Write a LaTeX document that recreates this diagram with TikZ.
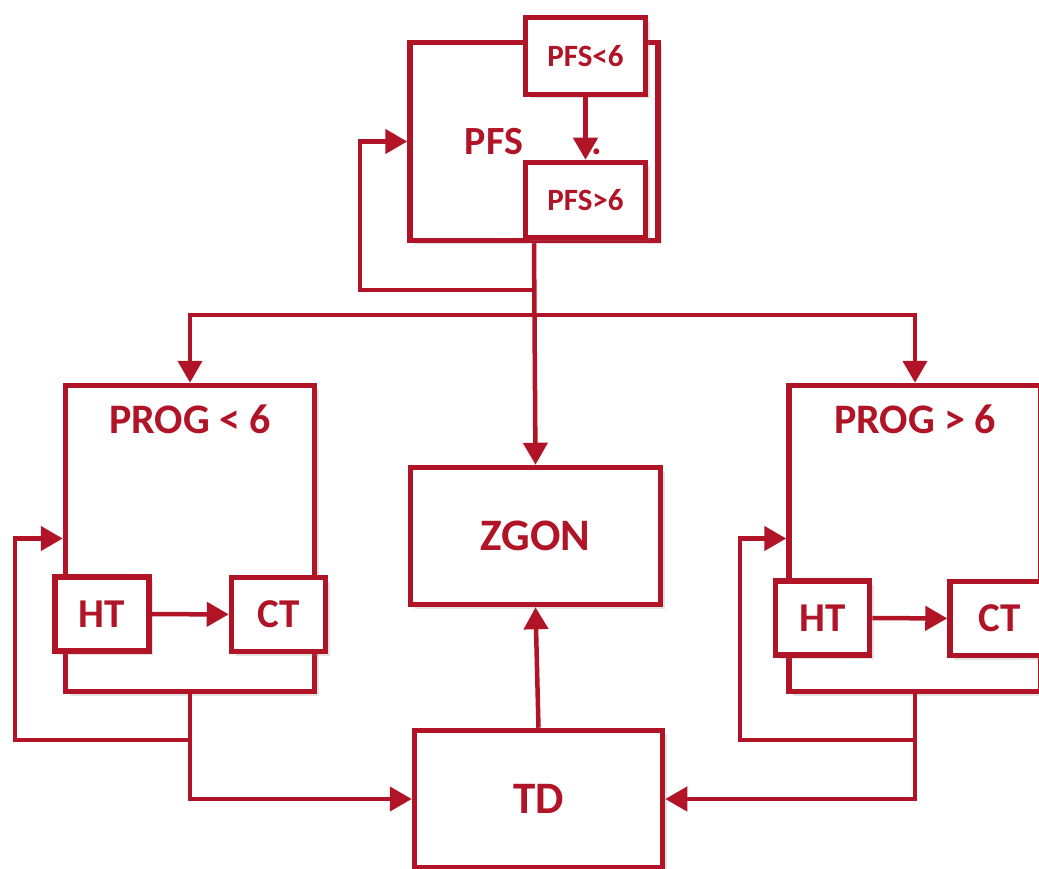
\documentclass[tikz,border=0pt]{standalone}
\usepackage{fontspec}
\setmainfont{Carlito}
\usepackage{xcolor}
\usepackage{tikz}
\usetikzlibrary{arrows.meta,shadows}
\definecolor{wine}{RGB}{176,20,38}
\tikzset{
  blk/.style    ={draw=wine,line width=5.5pt,fill=white,inner sep=0pt,
                  text=wine,font=\bfseries,
                  drop shadow={shadow xshift=4pt,shadow yshift=-4pt,opacity=0.22}},
  subblk/.style ={blk,minimum width=94pt,minimum height=74pt},
  hdr/.style    ={text=wine,font=\bfseries,inner sep=0pt,anchor=base},
  arr/.style    ={-{Triangle[length=22pt,width=24pt]},draw=wine,line width=4.5pt},
}
\newcommand{\fs}[1]{\fontsize{#1}{#1}\selectfont}

\begin{document}
\begin{tikzpicture}[x=1pt,y=-1pt]
\useasboundingbox (0,0) rectangle (1039,869);

% PFS block
\node[blk,minimum width=248,minimum height=198] (pfs) at (534,141.5) {};
\node[hdr,font=\bfseries\fs{40}] (pfslab) at (494,155) {PFS};
\node[hdr,font=\bfseries\fs{40}] (pfsdot) at (597,155) {.};
\node[blk,font=\bfseries\fs{31},minimum width=120,minimum height=77] (pfslo) at (585.5,56) {PFS<6};
\node[blk,font=\bfseries\fs{31},minimum width=120,minimum height=75] (pfshi) at (585.5,200) {PFS>6};
\draw[arr] (pfslo.south) -- (pfshi.north);

% middle column
\node[blk,font=\bfseries\fs{45},minimum width=250,minimum height=137] (zgon) at (535.5,536) {ZGON};
\node[blk,font=\bfseries\fs{45},minimum width=248,minimum height=137] (td) at (538.5,799) {TD};

% PROG < 6
\node[blk,minimum width=249,minimum height=306] (progL) at (190,538.5) {};
\node[hdr,font=\bfseries\fs{42}] (progLlab) at (190,433) {PROG < 6};
\node[subblk,font=\bfseries\fs{41}] (htL) at (102,614) {HT};
\node[subblk,font=\bfseries\fs{41}] (ctL) at (278.5,614.5) {CT};
\draw[arr] (htL) -- (ctL);

% PROG > 6
\node[blk,minimum width=252,minimum height=306] (progR) at (915,538.5) {};
\node[hdr,font=\bfseries\fs{42}] (progRlab) at (915,433) {PROG > 6};
\node[subblk,font=\bfseries\fs{41}] (htR) at (822.5,618) {HT};
\node[subblk,font=\bfseries\fs{41},minimum width=100] (ctR) at (1000,618.5) {CT};
\draw[arr] (htR) -- (ctR);

% branching from PFS
\coordinate (pfsloop) at (360,290);
\coordinate (split) at (534,315);
\draw[arr] (pfs.south |- pfsloop) -- (pfsloop) |- (pfs.west);
\draw[arr] (pfs.south) -- (zgon.north);
\draw[arr] (split) -| (progL.north);
\draw[arr] (split) -| (progR.north);

% loops and exits of PROG blocks
\coordinate (loopL) at (15,740);
\coordinate (loopR) at (740,740);
\draw[arr] (progL.south |- loopL) -- (loopL) |- (progL.west);
\draw[arr] (progR.south |- loopR) -- (loopR) |- (progR.west);
\draw[arr] (progL.south) |- (td.west);
\draw[arr] (progR.south) |- (td.east);
\draw[arr] (td.north) -- (zgon.south);

\end{tikzpicture}
\end{document}
